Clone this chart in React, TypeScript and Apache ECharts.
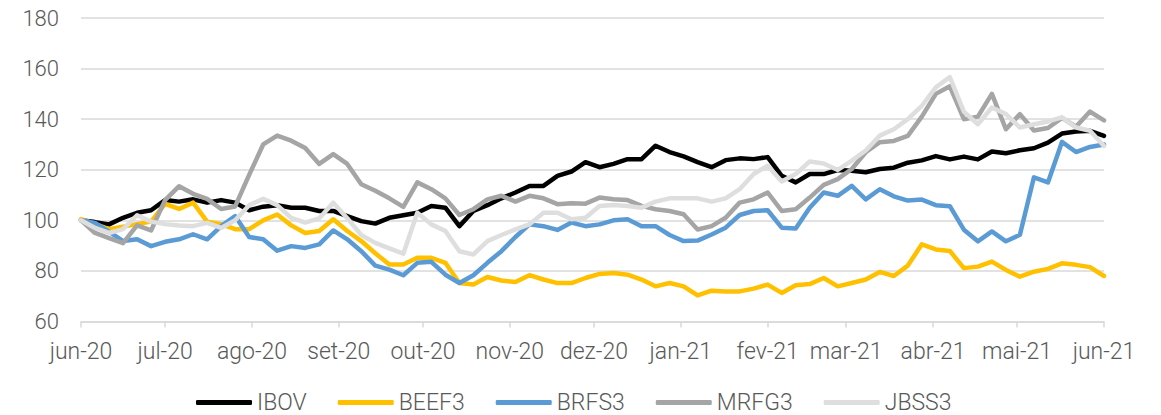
import React, { useEffect, useRef } from "react";
import * as echarts from "echarts";

const START_UTC = Date.UTC(2020, 5, 1);
const DAY_MS = 86400000;
const TOTAL_DAYS = 366;
const STEP_DAYS = 5;

const monthNames = ["jan", "fev", "mar", "abr", "mai", "jun", "jul", "ago", "set", "out", "nov", "dez"];
const yTicks = { min: 60, max: 180, interval: 20 };

const seriesNames = ["IBOV", "BEEF3", "BRFS3", "MRFG3", "JBSS3"];
const seriesColors = ["#000000", "#FFC000", "#5B9BD5", "#A5A5A5", "#DEDEDE"];

const ibov = [
  100, 99.3, 98.4, 101, 103, 104, 108, 107.4, 108.3, 107, 108, 107, 104, 105.4, 106,
  105, 105, 103.7, 103.7, 101.7, 99.7, 98.7, 101, 102, 103, 105.7, 105, 97.7, 103.7,
  106, 108.7, 111, 113.6, 113.6, 117.6, 119.3, 123, 121, 122.3, 124.2, 124.2, 129.5, 127,
  125.3, 123, 121, 123.8, 124.5, 124.2, 125, 117.6, 115, 118.3, 118.3, 119.9, 119.6, 119, 120.3,
  120.8, 122.8, 123.7, 125.4, 124.1, 125.2, 124.1, 127.2, 126.5, 127.7, 128.5, 130.7, 134.3, 135.1, 135.4, 133.4,
];

const beef3 = [
  100.5, 98.5, 96.5, 97.5, 98.5, 99.5, 106.5, 104.5, 107, 99.5, 98.5, 96.5, 96.5, 100, 102.3,
  98, 95, 95.8, 100.4, 95.8, 91.8, 87, 82.5, 82.5, 85.2, 85.2, 83.2, 75.2, 74.6,
  77.6, 76.2, 75.6, 78.3, 76.6, 75.2, 75.2, 77.2, 78.8, 79.2, 78.5, 76.6, 73.9, 75.2,
  73.9, 70.3, 72.2, 71.9, 71.9, 73, 74.6, 71.3, 74.3, 74.8, 77.2, 73.9, 75.2, 76.6, 79.6,
  78, 82.1, 90.5, 88.5, 87.9, 81.1, 81.7, 83.7, 80.4, 77.7, 79.7, 80.8, 83, 82.4, 81.5, 78,
];

const brfs3 = [
  100, 99, 95.5, 91.8, 92.5, 89.8, 91.5, 92.5, 94.5, 92.5, 97.7, 101.7, 93.4, 92.5, 88,
  89.8, 89.1, 90.5, 96, 92.5, 87.8, 82.1, 80.5, 78.3, 83.2, 83.6, 78.5, 75.2, 78.3,
  83.2, 87.8, 93.4, 98.4, 97.7, 96.2, 99.1, 97.7, 98.4, 100, 100.4, 97.7, 97.7, 94.2,
  91.8, 92, 94.4, 97.1, 102.1, 103.7, 104, 97.1, 96.8, 105, 111, 109.7, 113.6, 108.3, 112.3,
  109.5, 107.8, 108.2, 106, 105.6, 96.3, 91.7, 95.6, 91.7, 94.3, 117, 115, 131, 127, 129, 130,
];

const mrfg3 = [
  100, 95, 93, 91, 98, 96, 108, 113.5, 110.5, 108.5, 104.5, 105.5, 118, 130, 133.5,
  131.5, 128.6, 122.3, 126.2, 122.3, 114.3, 111.7, 108.7, 105.3, 115, 112.3, 108.7, 102.1, 104.4,
  108.3, 109.7, 107.4, 109.7, 108.7, 106.4, 106.8, 106.6, 109, 108.3, 108, 105.7, 104.4, 103.7,
  102.4, 96.4, 97.7, 101, 107, 108.3, 111, 103.7, 104.4, 109, 114, 116.3, 120.3, 126.9, 130.9,
  131.4, 133.4, 141, 150, 153, 140, 141, 150, 136, 142, 135.5, 136.5, 140.5, 137, 143, 139.5,
];

const jbss3 = [
  100, 97, 95, 96.5, 102, 99.5, 98.5, 98, 97.7, 99, 97, 100, 106, 108.5, 106,
  101, 99.1, 100.8, 107, 100.8, 94.2, 91.1, 88.9, 86.8, 103, 98.4, 95.8, 87.8, 86.5,
  91.8, 94.2, 96.4, 98.4, 103, 103, 100.4, 101, 105.7, 106.1, 105.7, 105, 107.4, 108.7,
  108.7, 108.7, 107.4, 108.7, 112.3, 118.3, 121.6, 115.4, 118.3, 123.3, 122.5, 119.9, 123.6, 127.6, 133.5,
  136, 140, 145.3, 152.6, 156.6, 143, 138, 144.6, 142, 136.7, 138, 139.1, 140.7, 136.7, 135.4, 129.4,
];

const seriesValues = [ibov, beef3, brfs3, mrfg3, jbss3];

const dayCategories: string[] = [];
for (let i = 0; i < TOTAL_DAYS; i++) {
  dayCategories.push(new Date(START_UTC + i * DAY_MS).toISOString().slice(0, 10));
}

const isMonthStart = (_i: number, v: string) => v.slice(8, 10) === "01";
const monthLabel = (v: string) => `${monthNames[Number(v.slice(5, 7)) - 1]}-${v.slice(2, 4)}`;

const FONT = "Roboto, 'Noto Sans', sans-serif";
const TEXT_COLOR = "#595959";

export default function App() {
  const ref = useRef<HTMLDivElement>(null);
  useEffect(() => {
    if (!ref.current) return;
    const chart = echarts.init(ref.current, undefined, { renderer: "svg" });
    chart.setOption({
      animation: false,
      backgroundColor: "#ffffff",
      grid: { left: 81, right: 57, top: 18, bottom: 93.5 },
      legend: {
        top: 386,
        left: 191,
        padding: 5,
        itemGap: 31,
        itemWidth: 56,
        itemHeight: 5,
        icon: "roundRect",
        textStyle: { color: TEXT_COLOR, fontSize: 23, lineHeight: 22, fontFamily: FONT, fontWeight: 300 },
        data: seriesNames,
      },
      xAxis: {
        type: "category",
        boundaryGap: false,
        data: dayCategories,
        axisLine: { lineStyle: { color: "#D9D9D9", width: 1.5 } },
        axisTick: { interval: isMonthStart, length: 6, lineStyle: { color: "#D9D9D9", width: 1.5 } },
        axisLabel: {
          interval: isMonthStart,
          formatter: monthLabel,
          color: TEXT_COLOR,
          fontSize: 23,
          fontFamily: FONT,
          fontWeight: 300,
          margin: 18,
          showMaxLabel: true,
        },
        splitLine: { show: false },
      },
      yAxis: {
        type: "value",
        min: yTicks.min,
        max: yTicks.max,
        interval: yTicks.interval,
        axisLine: { show: false },
        axisTick: { show: false },
        axisLabel: { color: TEXT_COLOR, fontSize: 22, fontFamily: FONT, fontWeight: 300, margin: 22 },
        splitLine: { lineStyle: { color: "#D9D9D9", width: 1.5 } },
      },
      series: seriesNames.map((name, s) => ({
        name,
        type: "line",
        showSymbol: false,
        symbol: "none",
        color: seriesColors[s],
        lineStyle: { width: 4.5, color: seriesColors[s], cap: "round", join: "round" },
        data: seriesValues[s].map((v, i) => [i * STEP_DAYS, v]),
        z: 2 + s,
      })),
    });
    return () => chart.dispose();
  }, []);
  return <div ref={ref} style={{ width: 1161, height: 415, position: "absolute", left: 0, top: 0 }} />;
}
